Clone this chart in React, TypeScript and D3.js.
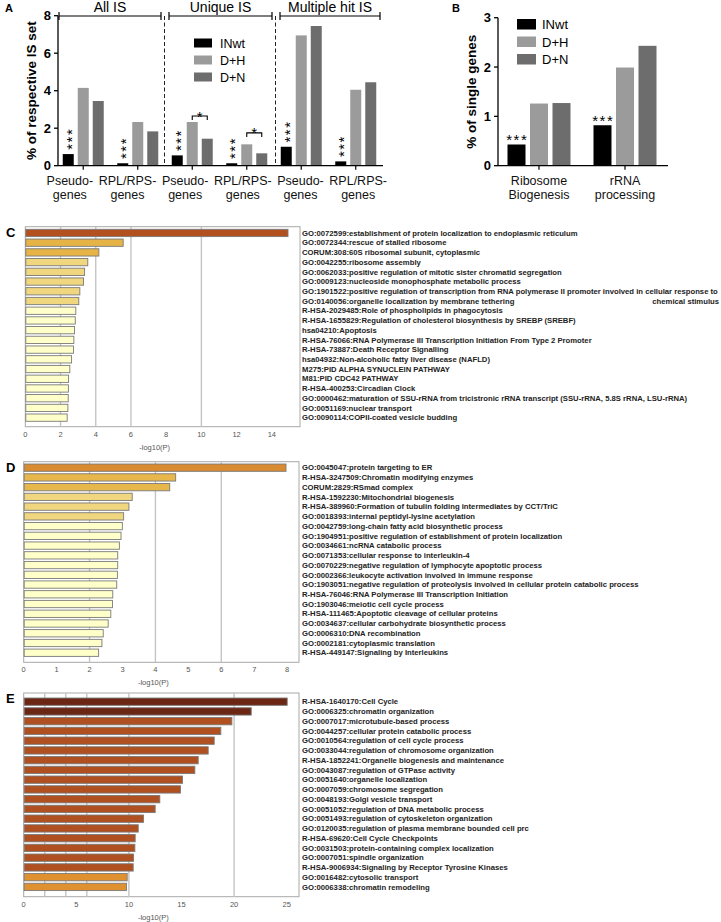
import React from "react";
import * as d3 from "d3";

// ── Panel A data ───────────────────────────────────────────────────────────
const sectionsA = ["All IS", "Unique IS", "Multiple hit IS"];
const groupsA = ["Pseudo-|genes", "RPL/RPS-|genes", "Pseudo-|genes", "RPL/RPS-|genes", "Pseudo-|genes", "RPL/RPS-|genes"];
const seriesNames = ["INwt", "D+H", "D+N"];
const inwtA = [0.62, 0.13, 0.55, 0.13, 1.01, 0.23];
const dhA = [4.15, 2.33, 2.33, 1.14, 6.95, 4.05];
const dnA = [3.45, 1.83, 1.44, 0.66, 7.45, 4.45];
const ticksA = [0, 2, 4, 6, 8];
const sigGroupsA = [2, 3];
const sigLevelsA = [2.65, 1.75];

// ── Panel B data ───────────────────────────────────────────────────────────
const groupsB = ["Ribosome|Biogenesis", "rRNA|processing"];
const inwtB = [0.43, 0.82];
const dhB = [1.26, 1.99];
const dnB = [1.27, 2.43];
const ticksB = [0, 1, 2, 3];

// ── Panels C/D/E data ──────────────────────────────────────────────────────
const termsC = [
  "GO:0072599:establishment of protein localization to endoplasmic reticulum",
  "GO:0072344:rescue of stalled ribosome",
  "CORUM:308:60S ribosomal subunit, cytoplasmic",
  "GO:0042255:ribosome assembly",
  "GO:0062033:positive regulation of mitotic sister chromatid segregation",
  "GO:0009123:nucleoside monophosphate metabolic process",
  "GO:1901522:positive regulation of transcription from RNA polymerase II promoter involved in cellular response to chemical stimulus",
  "GO:0140056:organelle localization by membrane tethering",
  "R-HSA-2029485:Role of phospholipids in phagocytosis",
  "R-HSA-1655829:Regulation of cholesterol biosynthesis by SREBP (SREBF)",
  "hsa04210:Apoptosis",
  "R-HSA-76066:RNA Polymerase III Transcription Initiation From Type 2 Promoter",
  "R-HSA-73887:Death Receptor Signalling",
  "hsa04932:Non-alcoholic fatty liver disease (NAFLD)",
  "M275:PID ALPHA SYNUCLEIN PATHWAY",
  "M81:PID CDC42 PATHWAY",
  "R-HSA-400253:Circadian Clock",
  "GO:0000462:maturation of SSU-rRNA from tricistronic rRNA transcript (SSU-rRNA, 5.8S rRNA, LSU-rRNA)",
  "GO:0051169:nuclear transport",
  "GO:0090114:COPII-coated vesicle budding",
];
const valuesC = [14.89, 5.53, 4.15, 3.52, 3.34, 3.28, 3.07, 3.01, 2.84, 2.81, 2.77, 2.73, 2.71, 2.6, 2.5, 2.43, 2.42, 2.41, 2.39, 2.35];
const ticksC = [0, 2, 4, 6, 8, 10, 12, 14];

const termsD = [
  "GO:0045047:protein targeting to ER",
  "R-HSA-3247509:Chromatin modifying enzymes",
  "CORUM:2829:RSmad complex",
  "R-HSA-1592230:Mitochondrial biogenesis",
  "R-HSA-389960:Formation of tubulin folding intermediates by CCT/TriC",
  "GO:0018393:internal peptidyl-lysine acetylation",
  "GO:0042759:long-chain fatty acid biosynthetic process",
  "GO:1904951:positive regulation of establishment of protein localization",
  "GO:0034661:ncRNA catabolic process",
  "GO:0071353:cellular response to interleukin-4",
  "GO:0070229:negative regulation of lymphocyte apoptotic process",
  "GO:0002366:leukocyte activation involved in immune response",
  "GO:1903051:negative regulation of proteolysis involved in cellular protein catabolic process",
  "R-HSA-76046:RNA Polymerase III Transcription Initiation",
  "GO:1903046:meiotic cell cycle process",
  "R-HSA-111465:Apoptotic cleavage of cellular proteins",
  "GO:0034637:cellular carbohydrate biosynthetic process",
  "GO:0006310:DNA recombination",
  "GO:0002181:cytoplasmic translation",
  "R-HSA-449147:Signaling by Interleukins",
];
const valuesD = [7.95, 4.6, 4.42, 3.28, 3.18, 3.02, 2.98, 2.94, 2.89, 2.84, 2.84, 2.83, 2.81, 2.69, 2.68, 2.63, 2.55, 2.4, 2.36, 2.26];
const ticksD = [0, 1, 2, 3, 4, 5, 6, 7, 8];

const termsE = [
  "R-HSA-1640170:Cell Cycle",
  "GO:0006325:chromatin organization",
  "GO:0007017:microtubule-based process",
  "GO:0044257:cellular protein catabolic process",
  "GO:0010564:regulation of cell cycle process",
  "GO:0033044:regulation of chromosome organization",
  "R-HSA-1852241:Organelle biogenesis and maintenance",
  "GO:0043087:regulation of GTPase activity",
  "GO:0051640:organelle localization",
  "GO:0007059:chromosome segregation",
  "GO:0048193:Golgi vesicle transport",
  "GO:0051052:regulation of DNA metabolic process",
  "GO:0051493:regulation of cytoskeleton organization",
  "GO:0120035:regulation of plasma membrane bounded cell prc",
  "R-HSA-69620:Cell Cycle Checkpoints",
  "GO:0031503:protein-containing complex localization",
  "GO:0007051:spindle organization",
  "R-HSA-9006934:Signaling by Receptor Tyrosine Kinases",
  "GO:0016482:cytosolic transport",
  "GO:0006338:chromatin remodeling",
];
const valuesE = [25.0, 21.58, 19.74, 18.69, 18.06, 17.49, 16.54, 16.22, 15.05, 14.86, 12.89, 12.45, 11.34, 10.84, 10.55, 10.52, 10.39, 10.36, 9.79, 9.72];
const ticksE = [0, 5, 10, 15, 20, 25];

const gridValues = [2, 4, 6, 10, 20];

// ── Styles ────────────────────────────────────────────────────────────────
const FONT = "Liberation Sans, Arial, sans-serif";
const SERIES_COLORS = ["#000000", "#9b9b9b", "#6d6d6d"];

const tierColors = (tiers: number[], colors: string[]) => (i: number) => {
  let acc = 0;
  for (let t = 0; t < tiers.length; t++) {
    acc += tiers[t];
    if (i < acc) return colors[t];
  }
  return colors[colors.length - 1];
};
const fillC = tierColors([1, 2, 5, 12], ["#b2501f", "#e6b446", "#f0d67e", "#ffffc9"]);
const fillD = tierColors([1, 2, 3, 14], ["#d98b2f", "#e8b74c", "#f0d67e", "#ffffc9"]);
const fillE = tierColors([2, 16, 2], ["#6b2713", "#b04f1f", "#e0912f"]);

function GroupedPanel({ groups, series, yScale, xLeft, xRight, subRange, subPad, ticks, title, titleX, legend, stars, labelRange }: any) {
  const x = d3.scaleBand<number>().domain(d3.range(groups.length)).range([xLeft, xRight]);
  const sub = d3.scaleBand<number>().domain(d3.range(3)).range(subRange).paddingInner(subPad).paddingOuter(0);
  const xl = labelRange ? d3.scaleBand<number>().domain(d3.range(groups.length)).range(labelRange) : x;
  const y0 = yScale(0);
  return (
    <g fontFamily={FONT}>
      {groups.map((g: string, gi: number) => {
        const cx = x(gi)! + x.bandwidth() / 2;
        return (
          <g key={gi}>
            {series.map((vals: number[], si: number) => (
              <rect key={si} x={cx + sub(si)!} y={yScale(vals[gi])} width={sub.bandwidth()} height={y0 - yScale(vals[gi])} fill={SERIES_COLORS[si]} />
            ))}
            <line x1={cx} x2={cx} y1={y0} y2={y0 + 4} stroke="#000" strokeWidth={1.2} />
            {g.split("|").map((t, li) => (
              <text key={li} x={xl(gi)! + xl.bandwidth() / 2} y={y0 + 19 + li * 14} textAnchor="middle" fontSize={12.5} fill="#111">{t}</text>
            ))}
            {stars(gi, cx + sub(0)! + sub.bandwidth() / 2, yScale(series[0][gi]))}
          </g>
        );
      })}
      {/* axes */}
      <line x1={xLeft + 2} x2={xLeft + 2} y1={yScale(ticks[ticks.length - 1])} y2={y0} stroke="#000" strokeWidth={1.3} />
      <line x1={xLeft + 2} x2={xRight} y1={y0} y2={y0} stroke="#000" strokeWidth={1.3} />
      {ticks.map((t: number) => (
        <g key={t}>
          <line x1={xLeft - 2} x2={xLeft + 2} y1={yScale(t)} y2={yScale(t)} stroke="#000" strokeWidth={1.3} />
          <text x={xLeft - 5} y={yScale(t) + 4.5} textAnchor="end" fontSize={13} fontWeight="bold">{t}</text>
        </g>
      ))}
      <text transform={`translate(${titleX},${(yScale(ticks[ticks.length - 1]) + y0) / 2}) rotate(-90)`} textAnchor="middle" fontSize={13.5} fontWeight="bold">{title}</text>
      {legend}
    </g>
  );
}

function EnrichPanel({ letter, terms, values, domainMax, xLeft, xRight, top, bottom, bandRange, ticks, fill }: any) {
  const x = d3.scaleLinear().domain([0, domainMax]).range([xLeft, xRight]);
  const y = d3.scaleBand<number>().domain(d3.range(terms.length)).range(bandRange).paddingInner(0.25).paddingOuter(0.125);
  const LABEL_FS = 7.7;
  return (
    <g fontFamily={FONT}>
      <text x={6} y={top + 10} fontSize={13} fontWeight="bold">{letter}</text>
      <rect x={xLeft} y={top} width={xRight - xLeft} height={bottom - top} fill="#fff" stroke="#a8a8a8" strokeWidth={1} />
      {gridValues.filter((g) => g < domainMax).map((g) => (
        <line key={g} x1={x(g)} x2={x(g)} y1={top} y2={bottom} stroke="#c4c4c4" strokeWidth={1.4} />
      ))}
      {values.map((v: number, i: number) => (
        <rect key={i} x={x(0) + 0.5} y={y(i)} width={x(v) - x(0)} height={y.bandwidth()} fill={fill(i)} stroke="#7a7a7a" strokeWidth={0.9} />
      ))}
      {ticks.map((t: number) => (
        <text key={t} x={x(t)} y={bottom + 10} textAnchor="middle" fontSize={7.5} fill="#555">{t}</text>
      ))}
      <text x={(xLeft + xRight) / 2 - 8} y={bottom + 23} textAnchor="middle" fontSize={7.5} fill="#555">-log10(P)</text>
      {terms.map((t: string, i: number) => {
        const cy = y(i)! + y.bandwidth() / 2 + 2.7;
        if (t.length > 110) {
          const cut = t.lastIndexOf(" ", t.lastIndexOf(" ") - 1);
          return (
            <g key={i}>
              <text x={302} y={cy} fontSize={LABEL_FS} fontWeight="bold" fill="#222">{t.slice(0, cut)}</text>
              <text x={719} y={cy + y.step()} textAnchor="end" fontSize={LABEL_FS} fontWeight="bold" fill="#222">{t.slice(cut + 1)}</text>
            </g>
          );
        }
        return <text key={i} x={302} y={cy} fontSize={LABEL_FS} fontWeight="bold" fill="#222">{t}</text>;
      })}
    </g>
  );
}

export default function App() {
  const yA = d3.scaleLinear().domain([0, 8]).range([165.7, 15.7]);
  const yB = d3.scaleLinear().domain([0, 3]).range([165.7, 17.7]);
  const sectionX = [[59, 161], [169, 272], [280, 380]];
  const dividers = [164.5, 275.5];

  const legendA = (
    <g>
      {seriesNames.map((s, i) => (
        <g key={s}>
          <rect x={194} y={38.5 + i * 17} width={18} height={9} fill={SERIES_COLORS[i]} />
          <text x={220} y={47.5 + i * 17} fontSize={12.5}>{s}</text>
        </g>
      ))}
    </g>
  );
  const legendB = (
    <g>
      {seriesNames.map((s, i) => (
        <g key={s}>
          <rect x={517} y={19 + i * 17.5} width={19} height={10.5} fill={SERIES_COLORS[i]} />
          <text x={542} y={29 + i * 17.5} fontSize={13}>{s}</text>
        </g>
      ))}
    </g>
  );

  // stacked asterisks above the INwt bars in A (one rotated text)
  const starsA = (gi: number, cx: number, top: number) => (
    <text transform={`translate(${cx + 8.7},${top - 4.3}) rotate(-90)`} fontSize={15} letterSpacing={1.5}>***</text>
  );
  const starsB = (gi: number, cx: number, top: number) => (
    <text x={cx + 0.8} y={top + 0.5} textAnchor="middle" fontSize={15} letterSpacing={1.6}>***</text>
  );

  const xAband = d3.scaleBand<number>().domain(d3.range(6)).range([56, 383]);
  const subA = d3.scaleBand<number>().domain(d3.range(3)).range([-20.5, 20.5]).paddingInner(0.267).paddingOuter(0);

  return (
    <svg width={721} height={922} style={{ position: "absolute", left: 0, top: 0, background: "#fff" }}>
      <rect width={721} height={922} fill="#fff" />
      {/* Panel A */}
      <text x={5} y={12} fontFamily={FONT} fontSize={11} fontWeight="bold">A</text>
      {sectionsA.map((s, i) => (
        <g key={s} fontFamily={FONT}>
          <line x1={sectionX[i][0]} x2={sectionX[i][1]} y1={16} y2={16} stroke="#000" strokeWidth={1.2} />
          <line x1={sectionX[i][0]} x2={sectionX[i][0]} y1={12} y2={20} stroke="#000" strokeWidth={1.2} />
          <line x1={sectionX[i][1]} x2={sectionX[i][1]} y1={12} y2={20} stroke="#000" strokeWidth={1.2} />
          <text x={(sectionX[i][0] + sectionX[i][1]) / 2} y={12} textAnchor="middle" fontSize={14}>{s}</text>
        </g>
      ))}
      {dividers.map((d) => (
        <line key={d} x1={d} x2={d} y1={16} y2={166} stroke="#222" strokeWidth={1} strokeDasharray="4,2.5" />
      ))}
      <GroupedPanel groups={groupsA} series={[inwtA, dhA, dnA]} yScale={yA} xLeft={56} xRight={383}
        subRange={[-20.5, 20.5]} subPad={0.267} ticks={ticksA} title="% of respective IS set" titleX={36}
        legend={legendA} stars={starsA} labelRange={[41, 387]} />
      {sigGroupsA.map((gi, k) => {
        const cx = xAband(gi)! + xAband.bandwidth() / 2;
        const a = cx + subA(1)! + subA.bandwidth() / 2;
        const b = cx + subA(2)! + subA.bandwidth() / 2;
        const yy = yA(sigLevelsA[k]);
        return (
          <g key={gi} fontFamily={FONT}>
            <path d={`M${a},${yy + 4}V${yy}H${b}V${yy + 4}`} fill="none" stroke="#000" strokeWidth={1.1} />
            <text x={(a + b) / 2} y={yy + 5.5} textAnchor="middle" fontSize={15}>*</text>
          </g>
        );
      })}

      {/* Panel B */}
      <text x={452} y={12} fontFamily={FONT} fontSize={11} fontWeight="bold">B</text>
      <GroupedPanel groups={groupsB} series={[inwtB, dhB, dnB]} yScale={yB} xLeft={496} xRight={668}
        subRange={[-31.5, 31.5]} subPad={0.2} ticks={ticksB} title="% of single genes" titleX={476}
        legend={legendB} stars={starsB} />

      {/* Panels C, D, E */}
      <EnrichPanel letter="C" terms={termsC} values={valuesC} domainMax={15.6} xLeft={25.3} xRight={300}
        top={226.7} bottom={426.7} bandRange={[228.1, 422.5]} ticks={ticksC} fill={fillC} />
      <EnrichPanel letter="D" terms={termsD} values={valuesD} domainMax={8.36} xLeft={23.7} xRight={299}
        top={461.7} bottom={662.3} bandRange={[462.8, 657.6]} ticks={ticksD} fill={fillD} />
      <EnrichPanel letter="E" terms={termsE} values={valuesE} domainMax={26.17} xLeft={23.7} xRight={299}
        top={693} bottom={896.7} bandRange={[696.8, 891.8]} ticks={ticksE} fill={fillE} />
    </svg>
  );
}
